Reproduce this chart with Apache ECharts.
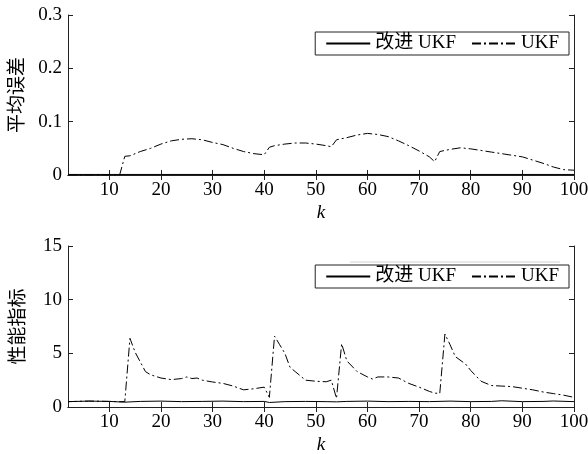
<!DOCTYPE html>
<html><head><meta charset="utf-8">
<script src="https://cdn.jsdelivr.net/npm/echarts@6/dist/echarts.min.js"></script>
<style>html,body{margin:0;padding:0;background:#fff}#c{width:588px;height:454px}</style>
</head><body><div id="c"></div>
<script>
// ---- data ----
const xTicks = [10,20,30,40,50,60,70,80,90,100];
const seriesNames = ['改进 UKF', 'UKF'];
const yNameTop = '平均误差';
const yNameBottom = '性能指标';
const xName = 'k';

// top panel: average error
const kImpTop = [2,10,20,30,40,50,60,70,80,90,100];
const impTop  = [0.001,0.001,0.001,0.001,0.001,0.001,0.001,0.001,0.001,0.001,0.001];
const kUkfTop = [2,12,13,14,16,18,20,22,24,26,28,30,32,34,36,38,40,41,42,44,46,48,50,52,53,54,56,58,60,62,64,66,68,70,72,73,74,76,78,80,82,84,86,88,90,92,94,96,98,100];
const ukfTop  = [0,0,0.035,0.036,0.044,0.050,0.058,0.064,0.067,0.068,0.066,0.061,0.057,0.050,0.044,0.040,0.038,0.052,0.055,0.058,0.060,0.060,0.058,0.055,0.053,0.066,0.070,0.075,0.078,0.076,0.072,0.064,0.055,0.045,0.034,0.025,0.044,0.048,0.051,0.049,0.046,0.043,0.040,0.037,0.034,0.028,0.022,0.015,0.010,0.009];

// bottom panel: performance index
const kImpBot = [2,6,10,13,16,20,24,28,32,36,40,41,44,48,52,54,56,60,64,68,72,76,80,84,86,90,94,96,100];
const impBot  = [0.5,0.55,0.52,0.45,0.52,0.55,0.5,0.52,0.55,0.5,0.52,0.42,0.5,0.52,0.5,0.48,0.52,0.55,0.5,0.52,0.5,0.55,0.5,0.52,0.58,0.5,0.52,0.56,0.5];
const kUkfBot = [2,6,10,12,13,14,15,16,17,18,20,22,24,25,26,27,28,30,32,34,36,38,40,41,42,43,44,45,46,48,50,52,53,54,55,56,58,60,61,62,64,66,68,70,72,73,74,75,76,77,79,80,82,84,86,88,90,92,94,96,98,100];
const ukfBot  = [0.5,0.55,0.52,0.5,0.5,6.4,5.1,4.2,3.3,3.0,2.7,2.55,2.65,2.8,2.65,2.7,2.5,2.33,2.2,1.95,1.6,1.7,1.85,0.9,6.6,5.8,5.0,3.7,3.3,2.5,2.4,2.35,2.5,0.8,5.9,4.3,3.3,2.8,2.6,2.8,2.8,2.7,2.2,1.85,1.45,1.3,1.25,6.8,5.8,4.7,4.0,3.4,2.4,2.0,1.95,1.9,1.75,1.6,1.4,1.25,1.1,0.9];

const zip = (a,b) => a.map((v,i)=>[v,b[i]]);

// ---- chart ----
const FONT = "'Liberation Serif','Times New Roman','Noto Sans CJK SC',serif";
const dashDot = [9,3,2,3];
const chart = echarts.init(document.getElementById('c'), null, {renderer:'canvas'});

function xAx(grid, pos){
  const main = pos === 'bottom';
  return {
    type:'value', gridIndex:grid, position:pos, min:2, max:100,
    name: main ? xName : '', nameLocation:'middle', nameGap:28,
    nameTextStyle:{fontFamily:FONT, fontSize:19, fontStyle:'italic', color:'#000'},
    axisLine:{show:true, lineStyle:{color:'#222', width:1}},
    axisTick:{show:true, inside:true, length:5, customValues:xTicks, lineStyle:{color:'#222'}},
    axisLabel:{show:main, customValues:xTicks, fontFamily:FONT, fontSize:19, color:'#000', margin:6},
    splitLine:{show:false}
  };
}
function yAx(grid, pos, max, interval, name){
  const main = pos === 'left';
  return {
    type:'value', gridIndex:grid, position:pos, min:0, max:max, interval:interval,
    name: main ? name : '', nameLocation:'middle', nameGap:39, nameRotate:90,
    nameTextStyle:{fontFamily:FONT, fontSize:19, color:'#000'},
    axisLine:{show:true, lineStyle:{color:'#222', width:1}},
    axisTick:{show:true, inside:true, length:5, lineStyle:{color:'#222'}},
    axisLabel:{show:main, fontFamily:FONT, fontSize:19, color:'#000', margin:6},
    splitLine:{show:false}
  };
}
function legend(top){
  return {
    top:top, right:19, orient:'horizontal',
    data:seriesNames,
    itemWidth:44, itemHeight:14, itemGap:15,
    padding:[2,10,2,10],
    borderColor:'#222', borderWidth:1, backgroundColor:'#fff',
    itemStyle:{color:'transparent', borderColor:'transparent', borderWidth:0, opacity:0},
    textStyle:{fontFamily:FONT, fontSize:19, color:'#000'},
    selectedMode:false
  };
}
function line(name, data, xi, yi, dashed){
  return {
    name:name, type:'line', xAxisIndex:xi, yAxisIndex:yi, data:data,
    symbol:'none', showSymbol:false, smooth:false, z: dashed ? 3 : 2,
    lineStyle:{color:'#000', width:1, type: dashed ? dashDot : 'solid'},
    itemStyle:{color:'#000'}, animation:false
  };
}

chart.setOption({
  animation:false,
  backgroundColor:'#fff',
  grid:[
    {left:68, right:14, top:15, height:160, outerBoundsMode:'none', containLabel:false},
    {left:68, right:14, top:246, height:161, outerBoundsMode:'none', containLabel:false}
  ],
  xAxis:[xAx(0,'bottom'), xAx(0,'top'), xAx(1,'bottom'), xAx(1,'top')],
  yAxis:[yAx(0,'left',0.3,0.1,yNameTop), yAx(0,'right',0.3,0.1,''), yAx(1,'left',15,5,yNameBottom), yAx(1,'right',15,5,'')],
  legend:[legend(32), legend(265)],
  graphic:[{type:'line', shape:{x1:350,y1:262,x2:560,y2:262}, style:{stroke:'#d0d0d0', lineWidth:1}, silent:true}],
  series:[
    line(seriesNames[0], zip(kImpTop, impTop), 0, 0, false),
    line(seriesNames[1], zip(kUkfTop, ukfTop), 0, 0, true),
    line(seriesNames[0], zip(kImpBot, impBot), 2, 2, false),
    line(seriesNames[1], zip(kUkfBot, ukfBot), 2, 2, true)
  ]
});
</script></body></html>
